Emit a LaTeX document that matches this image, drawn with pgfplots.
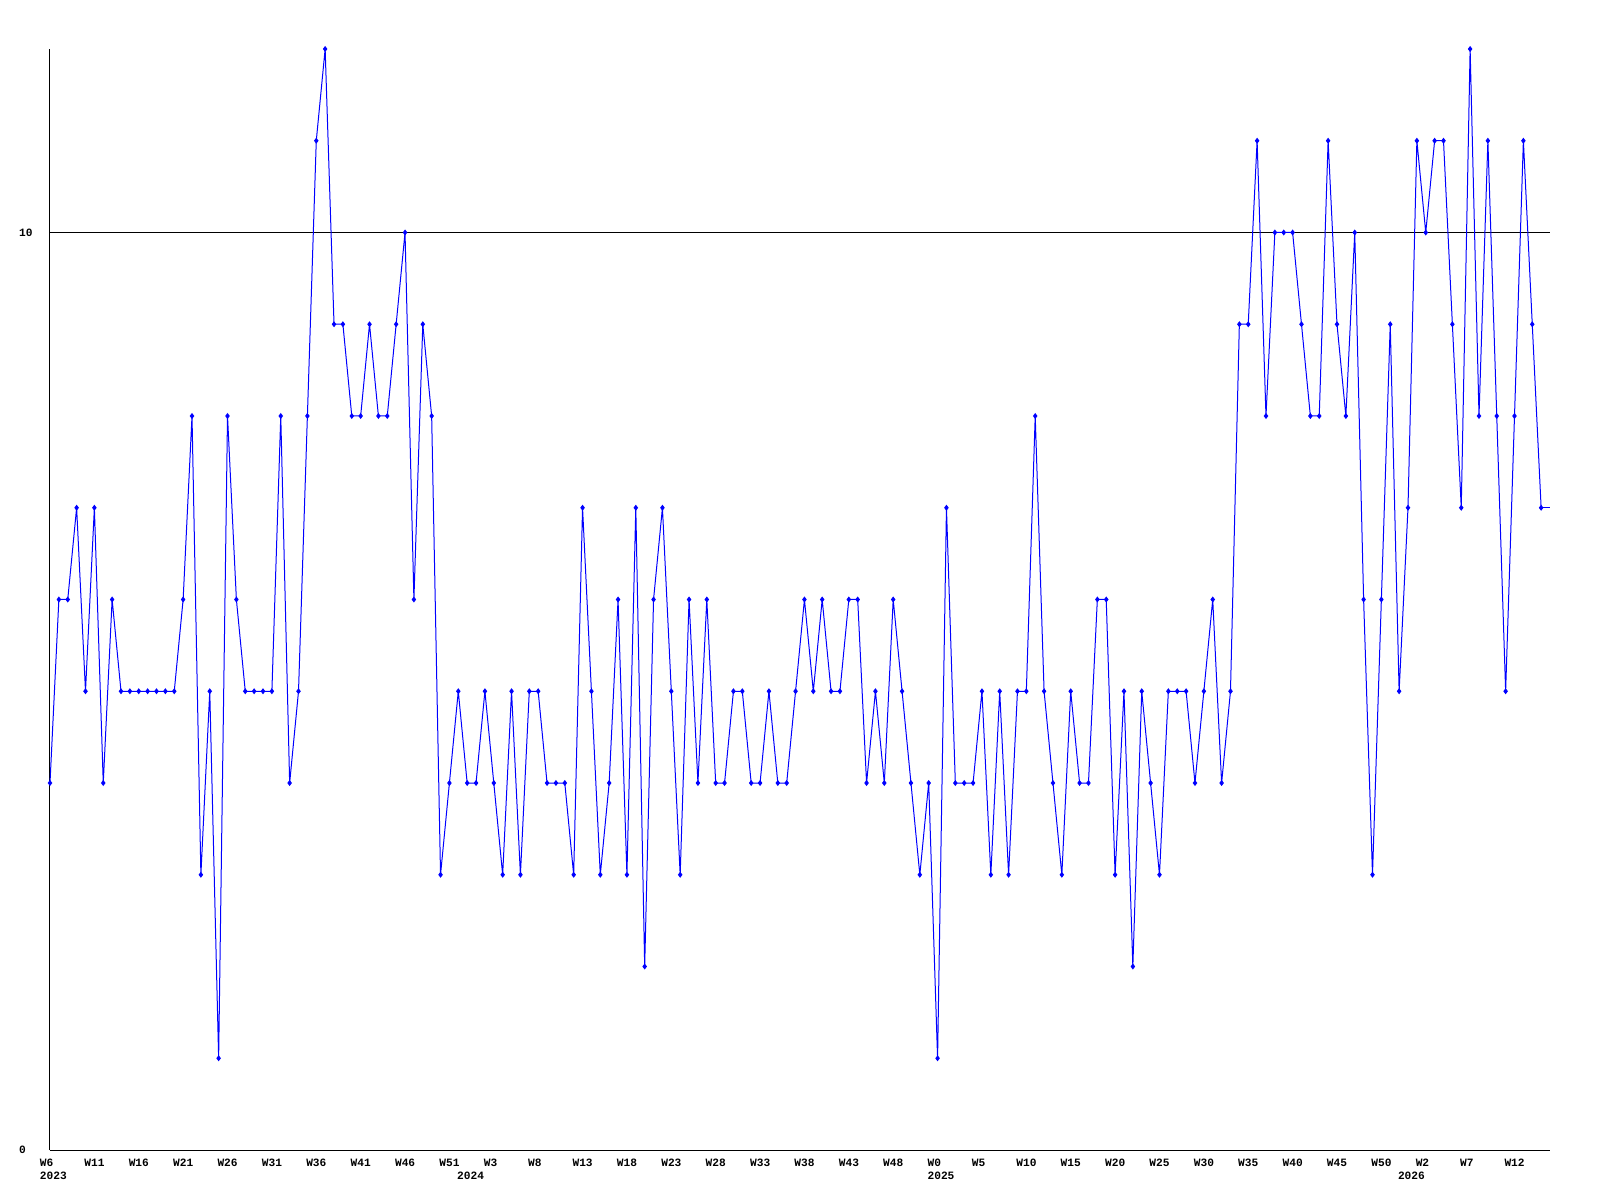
\documentclass[border=0pt]{standalone}
\usepackage{fontspec}
\usepackage{pgfplots}
\pgfplotsset{compat=1.18}
\newfontfamily\lbl{Liberation Mono}
\newcommand{\lblfont}{\lbl\bfseries\fontsize{5.6}{6}\selectfont}
\begin{document}
\begin{tikzpicture}
\useasboundingbox (-25pt,-25pt) rectangle (775pt,575pt);
\begin{axis}[
  scale only axis,
  width=750pt, height=550.5pt,
  xmin=0, xmax=169, ymin=0, ymax=12,
  axis x line=bottom, axis y line=left,
  axis line style={-, black, line width=0.5pt},
  major tick length=0pt,
  clip=false,
  xtick={0,5,...,165},
  xticklabels={W6,W11,W16,W21,W26,W31,W36,W41,W46,W51,W3,W8,W13,W18,W23,W28,W33,W38,W43,W48,W0,W5,W10,W15,W20,W25,W30,W35,W40,W45,W50,W2,W7,W12},
  xticklabel style={font=\lblfont, anchor=north west, inner sep=0pt, xshift=-5.2pt, yshift=-4.3pt},
  ytick={0,10},
  yticklabels={0,10},
  yticklabel style={font=\lblfont, anchor=west, inner sep=0pt, xshift=-15.6pt},
  /pgf/number format/assume math mode=true,
  ymajorgrids,
  grid style={black, line width=0.5pt},
]
\addplot[blue, line width=0.5pt, mark=diamond*, mark size=1.1pt, mark options={blue}] coordinates {
(0,4)(1,6)(2,6)(3,7)(4,5)(5,7)(6,4)(7,6)(8,5)(9,5)(10,5)(11,5)(12,5)(13,5)(14,5)(15,6)(16,8)(17,3)(18,5)(19,1)
(20,8)(21,6)(22,5)(23,5)(24,5)(25,5)(26,8)(27,4)(28,5)(29,8)(30,11)(31,12)(32,9)(33,9)(34,8)(35,8)(36,9)(37,8)(38,8)(39,9)
(40,10)(41,6)(42,9)(43,8)(44,3)(45,4)(46,5)(47,4)(48,4)(49,5)(50,4)(51,3)(52,5)(53,3)(54,5)(55,5)(56,4)(57,4)(58,4)(59,3)
(60,7)(61,5)(62,3)(63,4)(64,6)(65,3)(66,7)(67,2)(68,6)(69,7)(70,5)(71,3)(72,6)(73,4)(74,6)(75,4)(76,4)(77,5)(78,5)(79,4)
(80,4)(81,5)(82,4)(83,4)(84,5)(85,6)(86,5)(87,6)(88,5)(89,5)(90,6)(91,6)(92,4)(93,5)(94,4)(95,6)(96,5)(97,4)(98,3)(99,4)
(100,1)(101,7)(102,4)(103,4)(104,4)(105,5)(106,3)(107,5)(108,3)(109,5)(110,5)(111,8)(112,5)(113,4)(114,3)(115,5)(116,4)(117,4)(118,6)(119,6)
(120,3)(121,5)(122,2)(123,5)(124,4)(125,3)(126,5)(127,5)(128,5)(129,4)(130,5)(131,6)(132,4)(133,5)(134,9)(135,9)(136,11)(137,8)(138,10)(139,10)
(140,10)(141,9)(142,8)(143,8)(144,11)(145,9)(146,8)(147,10)(148,6)(149,3)(150,6)(151,9)(152,5)(153,7)(154,11)(155,10)(156,11)(157,11)(158,9)(159,7)
(160,12)(161,8)(162,11)(163,8)(164,5)(165,8)(166,11)(167,9)(168,7)
};
\addplot[blue, line width=0.5pt, no marks] coordinates {(168,7)(169,7)};
\node[font=\lblfont, anchor=north west, inner sep=0pt, shift={(-5.2pt,-11pt)}] at (axis cs:0,0) {2023};
\node[font=\lblfont, anchor=north west, inner sep=0pt, shift={(-5.2pt,-11pt)}] at (axis cs:47,0) {2024};
\node[font=\lblfont, anchor=north west, inner sep=0pt, shift={(-5.2pt,-11pt)}] at (axis cs:100,0) {2025};
\node[font=\lblfont, anchor=north west, inner sep=0pt, shift={(-5.2pt,-11pt)}] at (axis cs:153,0) {2026};
\end{axis}
\end{tikzpicture}
\end{document}
